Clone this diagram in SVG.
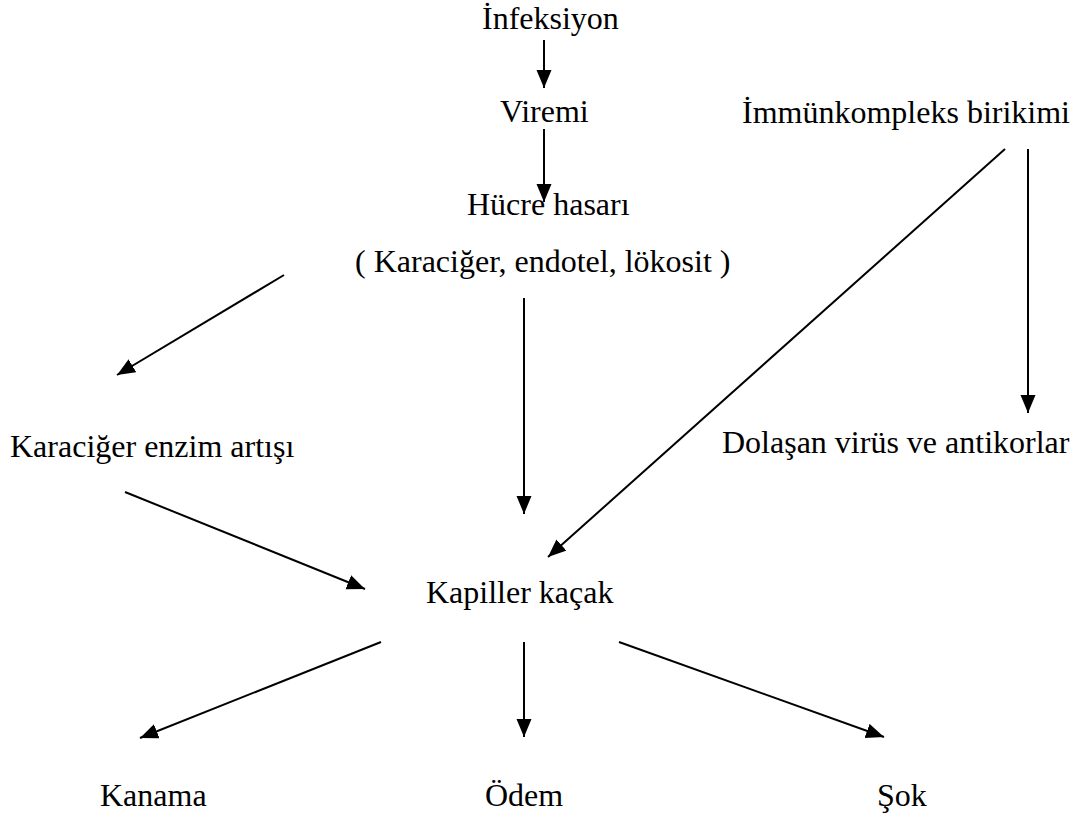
<svg xmlns="http://www.w3.org/2000/svg" width="1078" height="819" viewBox="0 0 1078 819">
<style>
text{font-family:'Liberation Serif','Times New Roman','DejaVu Serif',serif;font-size:32px;fill:#000}
.c{stroke:#000;stroke-width:2;fill:none;marker-end:url(#ah)}
</style>
<defs>
<marker id="ah" markerUnits="userSpaceOnUse" markerWidth="19" markerHeight="16" refX="18" refY="7.5" orient="auto">
<path d="M0,0 L18,7.5 L0,15 z" fill="#000"/>
</marker>
</defs>
<rect width="1078" height="819" fill="#fff"/>
<g id="connectors">
<line class="c" x1="544" y1="40" x2="544" y2="88"/>
<line class="c" x1="544" y1="129" x2="544" y2="202"/>
<line class="c" x1="284" y1="275" x2="117" y2="375"/>
<line class="c" x1="524" y1="298" x2="524" y2="514"/>
<line class="c" x1="1005" y1="149" x2="548" y2="557"/>
<line class="c" x1="1028" y1="149" x2="1028" y2="413"/>
<line class="c" x1="125" y1="492" x2="365" y2="589"/>
<line class="c" x1="381" y1="642" x2="140" y2="738"/>
<line class="c" x1="524" y1="642" x2="524" y2="737"/>
<line class="c" x1="619" y1="642" x2="884" y2="737"/>
</g>
<g font-family="Liberation Serif, Times New Roman, serif" font-size="32">
<g id="infeksiyon"><text x="482" y="29">İnfeksiyon</text></g>
<g id="viremi"><text x="500" y="122">Viremi</text></g>
<g id="immunkompleks"><text x="742" y="123">İmmünkompleks birikimi</text></g>
<g id="hucre"><text x="467" y="215">Hücre hasarı</text><text x="355" y="272">( Karaciğer, endotel, lökosit )</text></g>
<g id="karaciger"><text x="10" y="457">Karaciğer enzim artışı</text></g>
<g id="dolasan"><text x="722" y="453">Dolaşan virüs ve antikorlar</text></g>
<g id="kapiller"><text x="426" y="603">Kapiller kaçak</text></g>
<g id="kanama"><text x="100" y="806">Kanama</text></g>
<g id="odem"><text x="485" y="806">Ödem</text></g>
<g id="sok"><text x="877" y="806">Şok</text></g>
</g>
</svg>
